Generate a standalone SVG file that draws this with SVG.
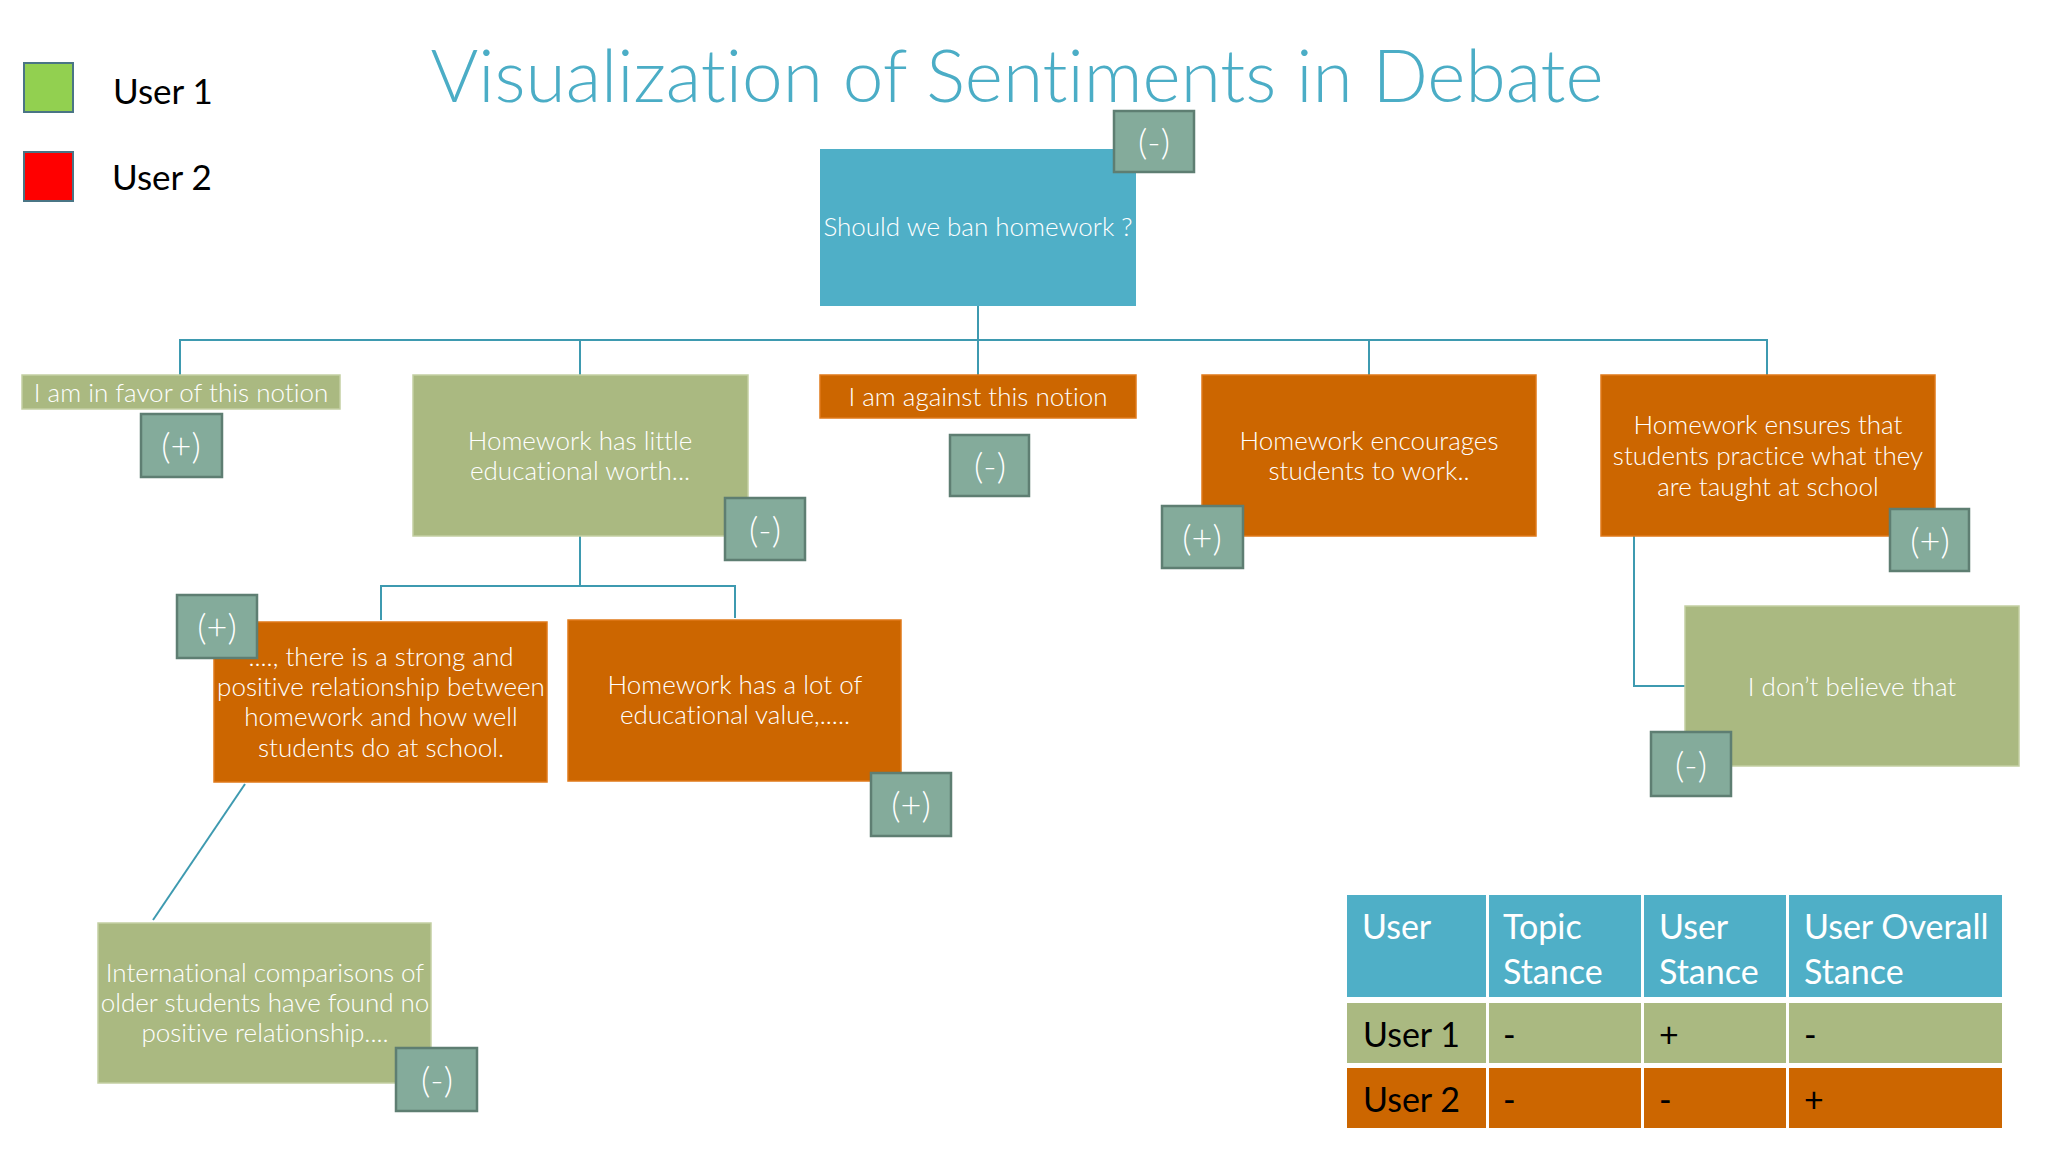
<svg xmlns="http://www.w3.org/2000/svg" width="2048" height="1152" viewBox="0 0 2048 1152">
<style>
text{font-family:Lato,"Open Sans",sans-serif;font-variant-ligatures:none}
.t{fill:#fff;font-weight:300;font-size:26px;text-anchor:middle;dominant-baseline:central}
.b{fill:#84AB9B;stroke:#5E7E72;stroke-width:2.5}
.bt{fill:#fff;font-weight:300;font-size:36px;text-anchor:middle;dominant-baseline:central}
.g{fill:#AAB981;stroke:#C3CFA3;stroke-width:1.5}
.o{fill:#CC6600;stroke:#E07A1A;stroke-width:1.5}
.bl{fill:#4FAFC7}
.ln{fill:none;stroke:#3E9AB0;stroke-width:2}
.hd{fill:#fff;font-size:34px;dominant-baseline:central}
.rw{fill:#000;font-size:34px;dominant-baseline:central}
</style>
<rect width="2048" height="1152" fill="#fff"/>
<g id="legend">
<rect x="24" y="63" width="49" height="49" fill="#92D050" stroke="#4A7585" stroke-width="2"/>
<text x="113" y="90" font-size="35" dominant-baseline="central" fill="#000">User 1</text>
<rect x="24" y="152" width="49" height="49" fill="#FF0000" stroke="#4A7585" stroke-width="2"/>
<text x="112" y="176" font-size="35" dominant-baseline="central" fill="#000">User 2</text>
</g>
<text id="title" x="1017" y="102" font-size="73" font-weight="300" fill="#4BADC6" text-anchor="middle">Visualization of Sentiments in Debate</text>
<g id="connectors">
<path class="ln" d="M978 306V375M180 375V340H1767V375M580 340V375M1369 340V375"/>
<path class="ln" d="M580 536V586M381 620V586H735V618"/>
<path class="ln" d="M1634 536V686H1685"/>
<path class="ln" d="M245 784L153 920"/>
</g>
<g id="root">
<rect class="bl" x="820" y="149" width="316" height="157"/>
<text class="t" x="978" y="226">Should we ban homework ?</text>
<rect class="b" x="1114" y="111" width="80" height="61"/>
<text class="bt" x="1154" y="141">(-)</text>
</g>
<g id="favor">
<rect class="g" x="22" y="375" width="318" height="34"/>
<text class="t" x="181" y="392">I am in favor of this notion</text>
<rect class="b" x="141" y="414" width="81" height="63"/>
<text class="bt" x="181" y="445">(+)</text>
</g>
<g id="little">
<rect class="g" x="413" y="375" width="335" height="161"/>
<text class="t" x="580" y="440">Homework has little</text>
<text class="t" x="580" y="470">educational worth...</text>
<rect class="b" x="725" y="498" width="80" height="62"/>
<text class="bt" x="765" y="529">(-)</text>
</g>
<g id="against">
<rect class="o" x="820" y="375" width="316" height="43"/>
<text class="t" x="978" y="396">I am against this notion</text>
<rect class="b" x="950" y="435" width="79" height="61"/>
<text class="bt" x="990" y="465">(-)</text>
</g>
<g id="encourages">
<rect class="o" x="1202" y="375" width="334" height="161"/>
<text class="t" x="1369" y="440">Homework encourages</text>
<text class="t" x="1369" y="470">students to work..</text>
<rect class="b" x="1162" y="506" width="81" height="62"/>
<text class="bt" x="1202" y="537">(+)</text>
</g>
<g id="ensures">
<rect class="o" x="1601" y="375" width="334" height="161"/>
<text class="t" x="1768" y="424">Homework ensures that</text>
<text class="t" x="1768" y="455">students practice what they</text>
<text class="t" x="1768" y="486">are taught at school</text>
<rect class="b" x="1890" y="509" width="79" height="62"/>
<text class="bt" x="1930" y="540">(+)</text>
</g>
<g id="strong">
<rect class="o" x="214" y="622" width="333" height="160"/>
<text class="t" x="381" y="656">...., there is a strong and</text>
<text class="t" x="381" y="686">positive relationship between</text>
<text class="t" x="381" y="716">homework and how well</text>
<text class="t" x="381" y="747">students do at school.</text>
<rect class="b" x="177" y="595" width="80" height="63"/>
<text class="bt" x="217" y="626">(+)</text>
</g>
<g id="lot">
<rect class="o" x="568" y="620" width="333" height="161"/>
<text class="t" x="735" y="684">Homework has a lot of</text>
<text class="t" x="735" y="714">educational value,.....</text>
<rect class="b" x="871" y="773" width="80" height="63"/>
<text class="bt" x="911" y="804">(+)</text>
</g>
<g id="dont">
<rect class="g" x="1685" y="606" width="334" height="160"/>
<text class="t" x="1852" y="686">I don’t believe that</text>
<rect class="b" x="1651" y="732" width="80" height="64"/>
<text class="bt" x="1691" y="764">(-)</text>
</g>
<g id="international">
<rect class="g" x="98" y="923" width="333" height="160"/>
<text class="t" x="265" y="972">International comparisons of</text>
<text class="t" x="265" y="1002">older students have found no</text>
<text class="t" x="265" y="1032">positive relationship....</text>
<rect class="b" x="396" y="1048" width="81" height="63"/>
<text class="bt" x="437" y="1079">(-)</text>
</g>
<g id="table">
<rect class="bl" x="1347" y="895" width="139" height="102"/>
<rect class="bl" x="1489" y="895" width="152" height="102"/>
<rect class="bl" x="1644" y="895" width="142" height="102"/>
<rect class="bl" x="1789" y="895" width="213" height="102"/>
<rect fill="#AAB981" x="1347" y="1003" width="139" height="60"/>
<rect fill="#AAB981" x="1489" y="1003" width="152" height="60"/>
<rect fill="#AAB981" x="1644" y="1003" width="142" height="60"/>
<rect fill="#AAB981" x="1789" y="1003" width="213" height="60"/>
<rect fill="#CC6600" x="1347" y="1068" width="139" height="60"/>
<rect fill="#CC6600" x="1489" y="1068" width="152" height="60"/>
<rect fill="#CC6600" x="1644" y="1068" width="142" height="60"/>
<rect fill="#CC6600" x="1789" y="1068" width="213" height="60"/>
<text class="hd" x="1362" y="925">User</text>
<text class="hd" x="1503" y="925">Topic</text>
<text class="hd" x="1503" y="970">Stance</text>
<text class="hd" x="1659" y="925">User</text>
<text class="hd" x="1659" y="970">Stance</text>
<text class="hd" x="1804" y="925">User Overall</text>
<text class="hd" x="1804" y="970">Stance</text>
<text class="rw" x="1363" y="1033">User 1</text>
<text class="rw" x="1503" y="1033">-</text>
<text class="rw" x="1659" y="1033">+</text>
<text class="rw" x="1804" y="1033">-</text>
<text class="rw" x="1363" y="1098">User 2</text>
<text class="rw" x="1503" y="1098">-</text>
<text class="rw" x="1659" y="1098">-</text>
<text class="rw" x="1804" y="1098">+</text>
</g>
</svg>
